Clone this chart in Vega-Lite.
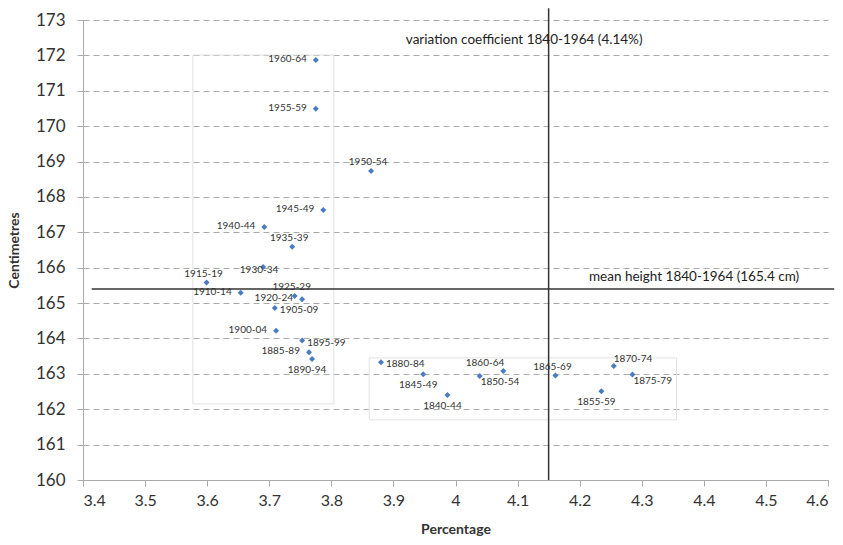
{
  "$schema": "https://vega.github.io/schema/vega-lite/v6.json",
  "width": 745,
  "height": 460,
  "autosize": {"type": "none"},
  "padding": {"left": 83, "top": 20, "right": 15, "bottom": 65},
  "background": "white",
  "config": {
    "font": "Lato",
    "view": {"stroke": null}
  },
  "datasets": {
    "points": [
      {"period": "1960-64", "x": 3.775, "y": 171.87, "side": "left"},
      {"period": "1955-59", "x": 3.775, "y": 170.49, "side": "left"},
      {"period": "1950-54", "x": 3.864, "y": 168.73, "side": "above"},
      {"period": "1945-49", "x": 3.787, "y": 167.63, "side": "left"},
      {"period": "1940-44", "x": 3.692, "y": 167.15, "side": "left"},
      {"period": "1935-39", "x": 3.737, "y": 166.59, "side": "above"},
      {"period": "1930-34", "x": 3.690, "y": 166.02, "side": "center"},
      {"period": "1915-19", "x": 3.599, "y": 165.58, "side": "above"},
      {"period": "1910-14", "x": 3.654, "y": 165.29, "side": "left"},
      {"period": "1925-29", "x": 3.741, "y": 165.20, "side": "above"},
      {"period": "1920-24", "x": 3.753, "y": 165.11, "side": "left"},
      {"period": "1905-09", "x": 3.709, "y": 164.86, "side": "right"},
      {"period": "1900-04", "x": 3.711, "y": 164.22, "side": "left"},
      {"period": "1895-99", "x": 3.753, "y": 163.94, "side": "right"},
      {"period": "1885-89", "x": 3.764, "y": 163.61, "side": "left"},
      {"period": "1890-94", "x": 3.769, "y": 163.42, "side": "below"},
      {"period": "1880-84", "x": 3.880, "y": 163.33, "side": "right"},
      {"period": "1845-49", "x": 3.948, "y": 162.99, "side": "below"},
      {"period": "1840-44", "x": 3.987, "y": 162.40, "side": "below"},
      {"period": "1850-54", "x": 4.039, "y": 162.94, "side": "br"},
      {"period": "1860-64", "x": 4.077, "y": 163.08, "side": "al"},
      {"period": "1865-69", "x": 4.161, "y": 162.95, "side": "above"},
      {"period": "1855-59", "x": 4.235, "y": 162.51, "side": "below"},
      {"period": "1870-74", "x": 4.255, "y": 163.22, "side": "ar"},
      {"period": "1875-79", "x": 4.285, "y": 162.98, "side": "br"}
    ],
    "boxes": [
      {"x": 3.577, "x2": 3.804, "y": 162.15, "y2": 172.01},
      {"x": 3.861, "x2": 4.356, "y": 161.70, "y2": 163.45}
    ],
    "hline": [{"x": 3.414, "x2": 4.61, "y": 165.4}],
    "vline": [{"x": 4.15, "y": 160, "y2": 173.33}],
    "notes": [
      {"text": "variation coefficient 1840-1964 (4.14%)", "x": 3.92, "y": 172.44},
      {"text": "mean height 1840-1964 (165.4 cm)", "x": 4.215, "y": 165.74}
    ]
  },
  "encoding": {
    "x": {"field": "x", "type": "quantitative", "scale": {"domain": [3.4, 4.6], "nice": false, "zero": false},
      "axis": {"title": "Percentage", "titleFontSize": 14, "titleFontWeight": "bold", "titleColor": "#333", "titlePadding": 14,
        "values": [3.4,3.5,3.6,3.7,3.8,3.9,4.0,4.1,4.2,4.3,4.4,4.5,4.6], "format": "~g", "labelOverlap": false,
        "labelFontSize": 16, "labelColor": "#333", "labelPadding": 6, "tickSize": 6, "tickColor": "#aaa",
        "domainColor": "#aaa", "grid": false}},
    "y": {"field": "y", "type": "quantitative", "scale": {"domain": [160, 173], "nice": false, "zero": false},
      "axis": {"title": "Centimetres", "titleFontSize": 14, "titleFontWeight": "bold", "titleColor": "#333", "titlePadding": 14,
        "values": [160,161,162,163,164,165,166,167,168,169,170,171,172,173], "labelOverlap": false,
        "labelFontSize": 17, "labelColor": "#333", "labelPadding": 12, "tickSize": 6, "tickColor": "#aaa",
        "domainColor": "#aaa", "grid": true, "gridColor": "#aaaaaa", "gridDash": [6, 4], "gridWidth": 1}}
  },
  "layer": [
    {
      "data": {"name": "boxes"},
      "mark": {"type": "rect", "fill": null, "stroke": "#e2e2e2", "strokeWidth": 1},
      "encoding": {"x2": {"field": "x2"}, "y2": {"field": "y2"}}
    },
    {
      "data": {"name": "hline"},
      "mark": {"type": "rule", "color": "#333", "strokeWidth": 1.5, "clip": false},
      "encoding": {"x2": {"field": "x2"}}
    },
    {
      "data": {"name": "vline"},
      "mark": {"type": "rule", "color": "#333", "strokeWidth": 1.5, "clip": false},
      "encoding": {"y2": {"field": "y2"}}
    },
    {
      "data": {"name": "notes"},
      "mark": {"type": "text", "align": "left", "baseline": "middle", "fontSize": 13.5, "color": "#222"},
      "encoding": {"text": {"field": "text"}}
    },
    {
      "data": {"name": "points"},
      "mark": {"type": "point", "shape": "diamond", "filled": true, "color": "#4a7cc4", "size": 36, "opacity": 1},
      "encoding": {}
    },
    {
      "data": {"name": "points"},
      "transform": [{"filter": "datum.side === 'left'"}],
      "mark": {"type": "text", "align": "right", "baseline": "middle", "dx": -9, "dy": -1, "fontSize": 10, "color": "#333"},
      "encoding": {"text": {"field": "period"}}
    },
    {
      "data": {"name": "points"},
      "transform": [{"filter": "datum.side === 'right'"}],
      "mark": {"type": "text", "align": "left", "baseline": "middle", "dx": 5, "dy": 2, "fontSize": 10, "color": "#333"},
      "encoding": {"text": {"field": "period"}}
    },
    {
      "data": {"name": "points"},
      "transform": [{"filter": "datum.side === 'above'"}],
      "mark": {"type": "text", "align": "center", "baseline": "middle", "dx": -3, "dy": -9, "fontSize": 10, "color": "#333"},
      "encoding": {"text": {"field": "period"}}
    },
    {
      "data": {"name": "points"},
      "transform": [{"filter": "datum.side === 'below'"}],
      "mark": {"type": "text", "align": "center", "baseline": "middle", "dx": -5, "dy": 11, "fontSize": 10, "color": "#333"},
      "encoding": {"text": {"field": "period"}}
    },
    {
      "data": {"name": "points"},
      "transform": [{"filter": "datum.side === 'center'"}],
      "mark": {"type": "text", "align": "center", "baseline": "middle", "dx": -4, "dy": 3, "fontSize": 10, "color": "#333"},
      "encoding": {"text": {"field": "period"}}
    },
    {
      "data": {"name": "points"},
      "transform": [{"filter": "datum.side === 'al'"}],
      "mark": {"type": "text", "align": "right", "baseline": "middle", "dx": 1, "dy": -8, "fontSize": 10, "color": "#333"},
      "encoding": {"text": {"field": "period"}}
    },
    {
      "data": {"name": "points"},
      "transform": [{"filter": "datum.side === 'ar'"}],
      "mark": {"type": "text", "align": "left", "baseline": "middle", "dx": 0, "dy": -7, "fontSize": 10, "color": "#333"},
      "encoding": {"text": {"field": "period"}}
    },
    {
      "data": {"name": "points"},
      "transform": [{"filter": "datum.side === 'br'"}],
      "mark": {"type": "text", "align": "left", "baseline": "middle", "dx": 1, "dy": 6, "fontSize": 10, "color": "#333"},
      "encoding": {"text": {"field": "period"}}
    }
  ]
}
